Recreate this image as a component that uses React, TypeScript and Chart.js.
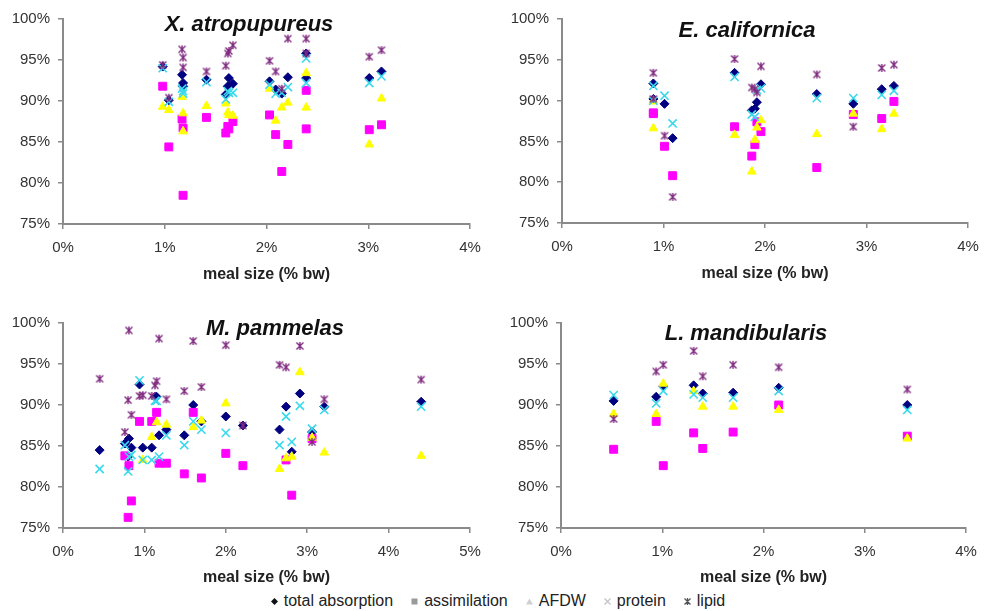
import React, { useEffect, useRef } from 'react';
import { Chart, registerables } from 'chart.js';

Chart.register(...registerables);

// ---------- data ----------
const seriesNames = ['total absorption', 'assimilation', 'AFDW', 'protein', 'lipid'];
const xTitle = 'meal size (% bw)';

// X. atropupureus
const xaMeal = [0.98, 1.04, 1.17, 1.18, 1.18, 1.41, 1.6, 1.62, 1.63, 1.67, 2.03, 2.09, 2.15, 2.21, 2.39, 2.39, 3.01, 3.13];
const xaTotal = [94.2, 90.1, 93.2, 92.2, 91.8, 92.6, 90.8, 91.8, 92.8, 92.1, 92.4, 91.4, 90.9, 92.9, 95.8, 92.8, 92.8, 93.6];
const xaAssim = [91.8, 84.4, 87.8, 86.7, 78.5, 88.0, 86.1, 86.9, 86.6, 87.5, 88.3, 85.9, 81.4, 84.7, 91.3, 86.6, 86.5, 87.1];
const xaAFDW = [89.3, 88.9, 90.5, 88.5, 86.3, 89.4, 89.7, 88.6, 88.3, 88.2, 91.5, 87.6, 89.2, 89.8, 93.4, 89.2, 84.7, 90.3];
const xaProtein = [94.0, 89.9, 91.5, 90.9, 91.2, 92.3, 90.2, 91.2, 91.0, 91.0, 92.0, 90.9, 91.0, 91.7, 95.2, 92.2, 92.2, 93.0];
const xaLipid = [94.4, 90.4, 96.3, 95.3, 94.1, 93.6, 94.3, 95.8, 96.1, 96.8, 94.9, 93.6, 91.5, 97.6, 97.6, 95.8, 95.4, 96.2];

// E. californica
const ecMeal = [0.9, 0.9, 1.01, 1.09, 1.7, 1.87, 1.9, 1.92, 1.96, 2.51, 2.87, 3.15, 3.27];
const ecTotal = [92.1, 90.2, 89.6, 85.4, 93.4, 88.8, 89.0, 89.8, 92.0, 90.8, 89.6, 91.4, 91.8];
const ecAssim = [88.5, 88.4, 84.4, 80.8, 86.8, 83.2, 84.6, 87.4, 86.2, 81.8, 88.3, 87.8, 89.9];
const ecAFDW = [86.6, 89.9, null, null, 85.8, 81.3, 85.2, 86.7, 87.6, 85.9, 88.4, 86.5, 88.4];
const ecProtein = [91.8, 90.0, 90.6, 87.2, 92.9, 88.3, 88.0, 91.3, 91.5, 90.3, 90.3, 90.7, 91.2];
const ecLipid = [93.4, 90.2, 85.7, 78.2, 95.1, 91.6, 91.4, 91.0, 94.2, 93.2, 86.8, 94.0, 94.4];

// M. pammelas
const mpMeal = [0.45, 0.76, 0.8, 0.81, 0.84, 0.94, 0.98, 1.09, 1.13, 1.15, 1.18, 1.27, 1.49, 1.6, 1.7, 2.0, 2.21, 2.66, 2.74, 2.81, 2.91, 3.06, 3.21, 4.4];
const mpTotal = [84.5, 85.3, 83.7, 85.9, 84.8, 92.5, 84.8, 84.8, 91.0, 91.0, 86.3, 87.0, 86.3, 90.0, 88.0, 88.6, 87.5, 87.0, 89.8, 84.3, 91.4, 86.7, 89.8, 90.4];
const mpAssim = [null, 83.8, 76.3, 82.6, 78.3, 88.0, null, 88.0, null, 89.1, 82.9, 82.9, 81.6, 89.1, 81.1, 84.1, 82.6, null, 83.3, 79.0, null, 85.9, null, null];
const mpAFDW = [null, null, null, null, null, null, 83.3, 86.1, null, 87.9, null, 87.6, null, 87.3, 88.1, 90.2, null, 82.2, 83.5, 83.7, 94.0, 86.0, 84.2, 83.8];
const mpProtein = [82.2, 85.1, 81.9, 83.7, 83.9, 93.0, 83.3, 83.3, 90.5, 90.5, 83.7, 86.3, 85.1, 88.0, 87.0, 86.6, null, 85.1, 88.6, 85.5, 89.9, 87.1, 89.4, 89.8];
const mpLipid = [93.2, 86.7, 90.6, 99.1, 88.8, 91.1, 91.2, 91.1, 92.4, 92.9, 98.1, 90.7, 91.7, 97.8, 92.2, 97.3, 87.5, 94.9, 94.6, null, 97.2, 85.5, 90.7, 93.1];

// L. mandibularis
const lmMeal = [0.52, 0.94, 1.01, 1.31, 1.4, 1.7, 2.15, 3.42];
const lmTotal = [90.5, 91.0, 92.3, 92.4, 91.4, 91.5, 92.1, 90.0];
const lmAssim = [84.6, 88.0, 82.6, 86.6, 84.7, 86.7, 90.0, 86.2];
const lmAFDW = [88.9, 88.9, 92.6, 91.7, 89.8, 89.8, 89.4, 85.9];
const lmProtein = [91.2, 90.2, 91.7, 91.3, 90.9, 90.9, 91.7, 89.4];
const lmLipid = [88.3, 94.1, 94.9, 96.6, 93.5, 94.9, 94.6, 91.9];

const yTicksMin = 75;
const yTicksMax = 100;

// ---------- styles ----------
const FONT = "Arial, 'Liberation Sans', Helvetica, sans-serif";
const COLORS = ['#000080', '#ff00ff', '#ffff00', '#3ad8ec', '#7f2a7f'];
const AXIS = '#8a8a8a';

function lipidMarker(color: string, size = 10) {
  const c = document.createElement('canvas');
  c.width = size;
  c.height = size;
  const g = c.getContext('2d')!;
  g.strokeStyle = color;
  g.lineWidth = 1.4;
  const a = 1.5, b = size - 1.5, m = size / 2;
  g.beginPath();
  g.moveTo(a, a); g.lineTo(b, b);
  g.moveTo(b, a); g.lineTo(a, b);
  g.moveTo(m, a - 0.5); g.lineTo(m, b + 0.5);
  g.stroke();
  return c;
}

type Vals = (number | null)[];
type PanelDef = {
  meal: number[];
  series: Vals[];
  xMax: number;
  left: number; top: number; width: number; height: number;
  area: { l: number; r: number; t: number; b: number };
  xTitleY: number;
};

function Panel({ def }: { def: PanelDef }) {
  const ref = useRef<HTMLCanvasElement>(null);
  useEffect(() => {
    const { meal, series, xMax, width, height, area, xTitleY } = def;
    const pts = (vals: Vals) =>
      meal.map((x, i) => ({ x, y: vals[i] })).filter((p) => p.y !== null) as { x: number; y: number }[];
    const styles: any[] = [
      { pointStyle: 'rectRot', pointRadius: 4.5, borderWidth: 1 },
      { pointStyle: 'rect', pointRadius: 5.6, borderWidth: 1 },
      { pointStyle: 'triangle', pointRadius: 5, borderWidth: 1 },
      { pointStyle: 'crossRot', pointRadius: 5.8, borderWidth: 1.6 },
      { pointStyle: lipidMarker(COLORS[4]), pointRadius: 5, borderWidth: 1 },
    ];
    const datasets = series.map((vals, k) => ({
      label: seriesNames[k],
      data: pts(vals),
      backgroundColor: COLORS[k],
      borderColor: COLORS[k],
      showLine: false,
      order: 5 - k,
      ...styles[k],
    }));
    const tickFont = { family: FONT, size: 15 };
    const chart = new Chart(ref.current!, {
      type: 'scatter',
      data: { datasets },
      options: {
        animation: false,
        responsive: false,
        devicePixelRatio: 1,
        events: [],
        layout: { padding: { left: 0, top: area.t, right: width - area.r, bottom: 0 } },
        plugins: { legend: { display: false }, tooltip: { enabled: false }, title: { display: false } },
        scales: {
          x: {
            type: 'linear',
            min: 0,
            max: xMax,
            ticks: { stepSize: 1, callback: (v: any) => v + '%', font: tickFont, color: '#333', padding: 10, maxRotation: 0, autoSkip: false },
            grid: { display: true, drawOnChartArea: false, drawTicks: true, tickLength: 5, color: AXIS, lineWidth: 1.5 },
            border: { display: true, color: AXIS, width: 2 },
            title: {
              display: true,
              text: xTitle,
              color: '#222',
              font: { family: FONT, size: 16, weight: 'bold' },
              padding: { top: 0, bottom: height - xTitleY - 9.6 },
            },
            afterFit: (s: any) => { s.height = height - area.b; },
          },
          y: {
            type: 'linear',
            min: yTicksMin,
            max: yTicksMax,
            ticks: { stepSize: 5, callback: (v: any) => v + '%', font: tickFont, color: '#333', padding: 8 },
            grid: { display: true, drawOnChartArea: false, drawTicks: true, tickLength: 5, color: AXIS, lineWidth: 1.5 },
            border: { display: true, color: AXIS, width: 2 },
            afterFit: (s: any) => { s.width = area.l; },
          },
        },
      } as any,
    });
    return () => chart.destroy();
  }, [def]);
  return (
    <canvas
      ref={ref}
      width={def.width}
      height={def.height}
      style={{ position: 'absolute', left: def.left, top: def.top, width: def.width, height: def.height }}
    />
  );
}

const panels: { def: PanelDef; title: string; tx: number; ty: number }[] = [
  {
    title: 'X. atropupureus', tx: 249, ty: 24,
    def: {
      meal: xaMeal, series: [xaTotal, xaAssim, xaAFDW, xaProtein, xaLipid], xMax: 4,
      left: 0, top: 0, width: 493, height: 300, area: { l: 63, r: 470, t: 19, b: 224 }, xTitleY: 275,
    },
  },
  {
    title: 'E. californica', tx: 747, ty: 30,
    def: {
      meal: ecMeal, series: [ecTotal, ecAssim, ecAFDW, ecProtein, ecLipid], xMax: 4,
      left: 493, top: 0, width: 500, height: 300, area: { l: 69, r: 475, t: 19, b: 223 }, xTitleY: 274,
    },
  },
  {
    title: 'M. pammelas', tx: 275, ty: 328,
    def: {
      meal: mpMeal, series: [mpTotal, mpAssim, mpAFDW, mpProtein, mpLipid], xMax: 5,
      left: 0, top: 300, width: 493, height: 290, area: { l: 63, r: 470, t: 23, b: 228 }, xTitleY: 278,
    },
  },
  {
    title: 'L. mandibularis', tx: 746, ty: 333,
    def: {
      meal: lmMeal, series: [lmTotal, lmAssim, lmAFDW, lmProtein, lmLipid], xMax: 4,
      left: 493, top: 300, width: 500, height: 290, area: { l: 68, r: 473, t: 23, b: 228 }, xTitleY: 278,
    },
  },
];

function LegendMarker({ k }: { k: number }) {
  const s = 9;
  const c = ['#111', '#9a9a9a', '#cfcfcf', '#c4c4c4', '#555'][k];
  let shape: any;
  if (k === 0) shape = <polygon points="4.5,1 8,4.5 4.5,8 1,4.5" fill={c} />;
  else if (k === 1) shape = <rect x="1.5" y="1.5" width="6" height="6" fill={c} />;
  else if (k === 2) shape = <polygon points="4.5,1.5 8,7.5 1,7.5" fill={c} />;
  else if (k === 3)
    shape = <path d="M1.5,1.5 L7.5,7.5 M7.5,1.5 L1.5,7.5" stroke={c} strokeWidth="1.3" fill="none" />;
  else
    shape = <path d="M1.5,1.5 L7.5,7.5 M7.5,1.5 L1.5,7.5 M4.5,1 L4.5,8" stroke={c} strokeWidth="1.3" fill="none" />;
  return (
    <svg width={s} height={s} viewBox="0 0 9 9" style={{ marginRight: 5, display: 'block' }}>
      {shape}
    </svg>
  );
}

export default function App() {
  return (
    <div style={{ position: 'absolute', left: 0, top: 0, width: 993, height: 611, background: '#fff', overflow: 'hidden' }}>
      {panels.map((p, i) => (
        <Panel key={i} def={p.def} />
      ))}
      {panels.map((p, i) => (
        <div
          key={'t' + i}
          style={{
            position: 'absolute', left: p.tx, top: p.ty, transform: 'translate(-50%, -50%)',
            font: `italic bold 22px ${FONT}`, lineHeight: '22px', color: '#111', whiteSpace: 'nowrap',
          }}
        >
          {p.title}
        </div>
      ))}
      <div
        style={{
          position: 'absolute', left: 0, width: 995, top: 592, height: 18,
          display: 'flex', justifyContent: 'center', alignItems: 'center',
          font: `16px ${FONT}`, color: '#222', whiteSpace: 'nowrap',
        }}
      >
        {seriesNames.map((n, k) => (
          <div key={n} style={{ display: 'flex', alignItems: 'center', marginRight: k < 4 ? 17 : 0 }}>
            <LegendMarker k={k} />
            <span>{n}</span>
          </div>
        ))}
      </div>
    </div>
  );
}
